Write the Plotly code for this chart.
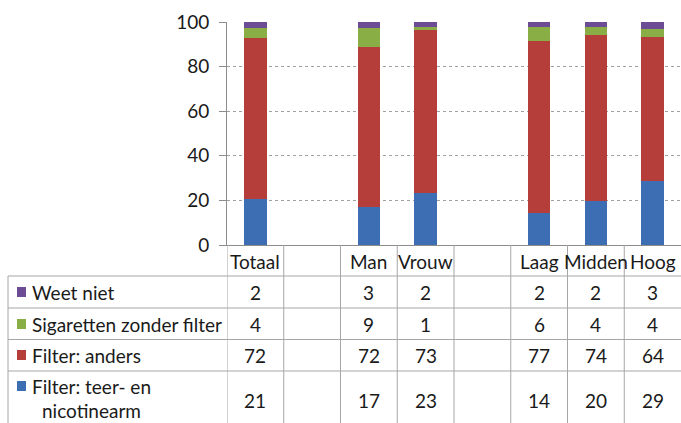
import plotly.graph_objects as go

categories = ["Totaal", "", "Man", "Vrouw", "", "Laag", "Midden", "Hoog"]
series_names = ["Filter: teer- en nicotinearm", "Filter: anders",
                "Sigaretten zonder filter", "Weet niet"]
# bar heights
teer_nicotinearm = [20.6, None, 17.0, 23.3, None, 14.3, 19.7, 28.7]
filter_anders = [72.4, None, 71.7, 73.0, None, 77.0, 74.5, 64.4]
zonder_filter = [4.4, None, 8.5, 1.3, None, 6.3, 3.5, 3.6]
weet_niet = [2.4, None, 2.8, 2.4, None, 2.4, 2.3, 3.3]
# values printed in the data table
tbl_weet_niet = ["2", "", "3", "2", "", "2", "2", "3"]
tbl_zonder_filter = ["4", "", "9", "1", "", "6", "4", "4"]
tbl_anders = ["72", "", "72", "73", "", "77", "74", "64"]
tbl_teer = ["21", "", "17", "23", "", "14", "20", "29"]
y_ticks = [0, 20, 40, 60, 80, 100]

colors = ["#3d6eb4", "#b53d3a", "#8aae46", "#6c4d95"]
FONT = "Lato, Open Sans, sans-serif"
TXT = "#1a1a1a"
LINE = "#a6a6a6"

W, H = 681, 423
ML, MR, MT, MB = 227, 0, 22, 178
PW, PH = W - ML - MR, H - MT - MB


def ypap(p):
    return (H - MB - p) / PH


def xpap(p):
    return (p - ML) / PW


xs = list(range(len(categories)))
fig = go.Figure()
for name, vals, col in zip(series_names,
                           [teer_nicotinearm, filter_anders, zonder_filter, weet_niet],
                           colors):
    fig.add_trace(go.Bar(x=xs, y=vals, name=name, marker_color=col,
                         marker_line_width=0))

shapes = []
# horizontal table lines
for yp in [276, 308, 339.5, 371]:
    shapes.append(dict(type="line", xref="paper", yref="paper",
                       x0=xpap(8), x1=1, y0=ypap(yp), y1=ypap(yp),
                       line=dict(color=LINE, width=1)))
# left border of the legend column
shapes.append(dict(type="line", xref="paper", yref="paper",
                   x0=xpap(8), x1=xpap(8), y0=ypap(276), y1=ypap(H),
                   line=dict(color=LINE, width=1)))
# vertical column separators
for i in range(len(categories)):
    shapes.append(dict(type="line", xref="x", yref="paper",
                       x0=i - 0.5, x1=i - 0.5, y0=0, y1=ypap(H),
                       line=dict(color=LINE, width=1)))

annotations = []
font = dict(family=FONT, size=19, color=TXT)
for i, c in enumerate(categories):
    if c:
        annotations.append(dict(x=i, y=ypap(261), xref="x", yref="paper",
                                text=c, showarrow=False, font=font,
                                xanchor="center", yanchor="middle"))

rows = [
    (["Weet niet"], tbl_weet_niet, colors[3], 292),
    (["Sigaretten zonder filter"], tbl_zonder_filter, colors[2], 324),
    (["Filter: anders"], tbl_anders, colors[1], 355),
    (["Filter: teer- en", "nicotinearm"], tbl_teer, colors[0], 398),
]
for labels, vals, col, yc in rows:
    if len(labels) == 1:
        annotations.append(dict(x=xpap(30), y=ypap(yc), xref="paper", yref="paper",
                                text=labels[0], showarrow=False, font=font,
                                xanchor="left", yanchor="middle"))
        sq = yc
    else:
        annotations.append(dict(x=xpap(30), y=ypap(386), xref="paper", yref="paper",
                                text=labels[0], showarrow=False, font=font,
                                xanchor="left", yanchor="middle"))
        annotations.append(dict(x=xpap(40), y=ypap(410), xref="paper", yref="paper",
                                text=labels[1], showarrow=False, font=font,
                                xanchor="left", yanchor="middle"))
        sq = 386
    shapes.append(dict(type="rect", xref="paper", yref="paper",
                       x0=xpap(17), x1=xpap(26), y0=ypap(sq - 5), y1=ypap(sq + 5),
                       fillcolor=col, line=dict(width=0)))
    for i, v in enumerate(vals):
        if v:
            annotations.append(dict(x=i, y=ypap(yc + 2 if len(labels) > 1 else yc),
                                    xref="x", yref="paper",
                                    text=v, showarrow=False, font=font,
                                    xanchor="center", yanchor="middle"))

fig.update_layout(
    width=W, height=H,
    margin=dict(l=ML, r=MR, t=MT, b=MB, pad=0),
    barmode="stack", bargap=0.605,
    showlegend=False,
    plot_bgcolor="white", paper_bgcolor="white",
    font=dict(family=FONT, size=19, color=TXT),
    shapes=shapes, annotations=annotations,
    xaxis=dict(range=[-0.5, len(categories) - 0.5], showticklabels=False,
               showgrid=False, zeroline=False, showline=True,
               linecolor="#8c8c8c", linewidth=1, ticks=""),
    yaxis=dict(range=[0, 100], tickvals=y_ticks, showgrid=True,
               gridcolor="#a0a0a0", griddash="dot", gridwidth=1,
               zeroline=False, showline=True, linecolor="#8c8c8c", linewidth=1,
               ticks="outside", ticklen=7, tickcolor="#8c8c8c",
               tickfont=dict(family=FONT, size=19, color=TXT)),
)
fig.update_yaxes(ticklabelstandoff=6)

fig.write_html("out.html",
               config={"displayModeBar": False},
               post_script="document.body.style.margin='0';"
                           "document.body.style.padding='0';")
